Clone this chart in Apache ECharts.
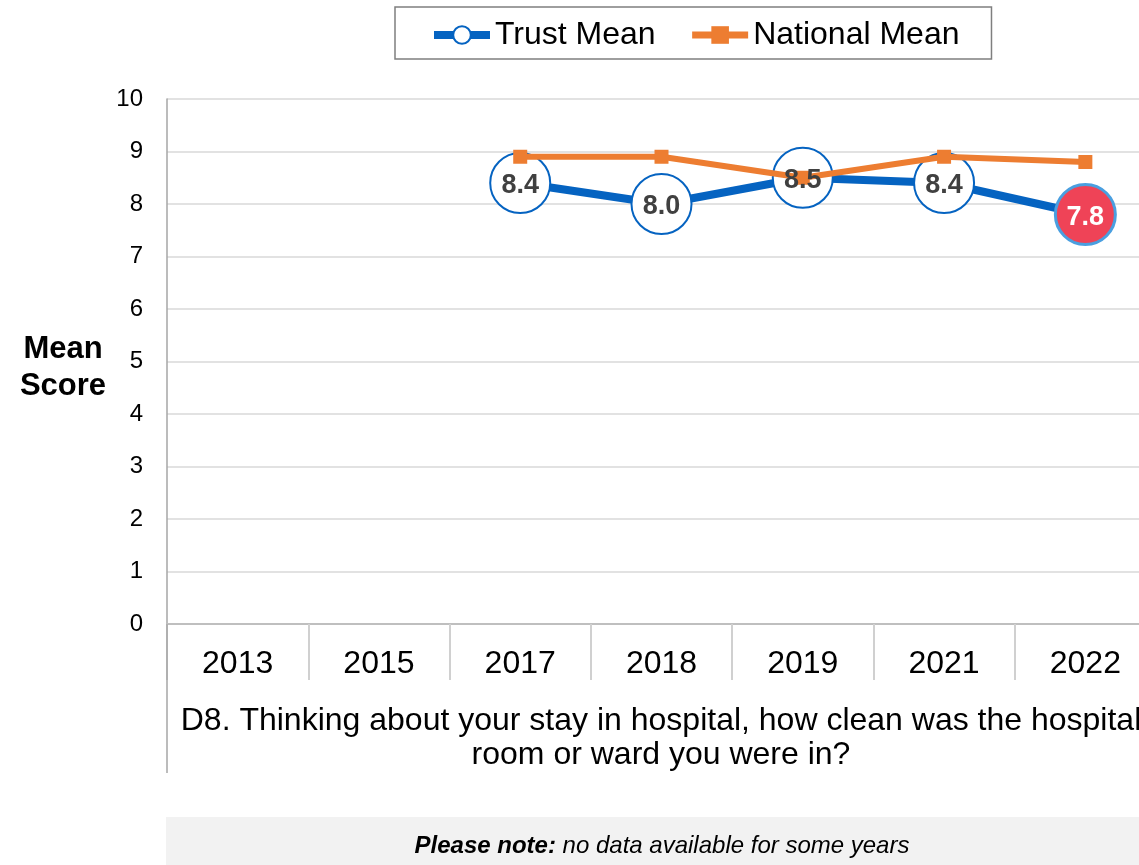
<!DOCTYPE html>
<html>
<head>
<meta charset="utf-8">
<script src="https://cdn.jsdelivr.net/npm/echarts@6/dist/echarts.min.js"></script>
<style>
html,body{margin:0;padding:0;background:#fff;overflow:hidden;width:1139px;height:865px;}
#chart{width:1156px;height:865px;}
</style>
</head>
<body>
<div id="chart"></div>
<script>
var years = ['2013', '2015', '2017', '2018', '2019', '2021', '2022'];
var trustMean = [null, null, 8.4, 8.0, 8.5, 8.4, 7.8];
var nationalMean = [null, null, 8.9, 8.9, 8.5, 8.9, 8.8];
var yTicks = [0, 1, 2, 3, 4, 5, 6, 7, 8, 9, 10];
var highlightIndex = 6; // 2022 shown in red
var questionText = 'D8. Thinking about your stay in hospital, how clean was the hospital\nroom or ward you were in?';
var yTitle = 'Mean\nScore';

var FONT = '"Liberation Sans", Arial, sans-serif';
var BLUE = '#0563C1';
var ORANGE = '#ED7D31';
var RED = '#EF4357';

var chart = echarts.init(document.getElementById('chart'), null, {renderer: 'canvas'});

var trustData = trustMean.map(function (v, i) {
  if (v === null) return null;
  if (i === highlightIndex) {
    return {value: v, itemStyle: {color: RED, borderColor: '#4A9FE0', borderWidth: 3}};
  }
  return v;
});
var labelData = trustMean.map(function (v, i) {
  if (v === null) return null;
  if (i === highlightIndex) {
    return {value: v, label: {color: '#ffffff'}};
  }
  return v;
});

var option = {
  animation: false,
  backgroundColor: '#ffffff',
  textStyle: {fontFamily: FONT},
  legend: {
    data: [
      {name: 'Trust Mean', lineStyle: {width: 8}},
      {name: 'National Mean', lineStyle: {width: 7}}
    ],
    left: 395,
    top: 7,
    padding: [12, 32, 8, 35],
    itemGap: 33,
    itemWidth: 56,
    itemHeight: 22,
    borderColor: '#7f7f7f',
    borderWidth: 1.5,
    backgroundColor: '#fff',
    textStyle: {fontSize: 32, color: '#000', fontFamily: FONT}
  },
  grid: {left: 167, top: 99, right: 0, bottom: 241, containLabel: false},
  xAxis: {
    type: 'category',
    data: years,
    boundaryGap: true,
    axisLine: {show: true, lineStyle: {color: '#bfbfbf', width: 2}},
    axisTick: {show: true, interval: 0, length: 56, lineStyle: {color: '#d0d0d0', width: 2}},
    axisLabel: {fontSize: 32, color: '#000', margin: 24, fontFamily: FONT, interval: 0}
  },
  yAxis: {
    type: 'value',
    min: 0,
    max: 10,
    interval: 1,
    axisLine: {show: true, lineStyle: {color: '#a6a6a6', width: 1.5}},
    axisTick: {show: false},
    splitLine: {show: true, lineStyle: {color: '#d9d9d9', width: 1.5}},
    axisLabel: {fontSize: 24, color: '#000', margin: 24, fontFamily: FONT,
      formatter: function (v) { return yTicks.indexOf(v) >= 0 ? String(v) : ''; }}
  },
  series: [
    {
      name: 'Trust Mean',
      type: 'line',
      z: 2,
      data: trustData,
      connectNulls: false,
      lineStyle: {color: BLUE, width: 8},
      itemStyle: {color: '#ffffff', borderColor: BLUE, borderWidth: 2},
      symbol: 'circle',
      symbolSize: 60,
      showAllSymbol: true,
      label: {show: false}
    },
    {
      name: 'National Mean',
      type: 'line',
      z: 3,
      data: nationalMean,
      lineStyle: {color: ORANGE, width: 6},
      itemStyle: {color: ORANGE},
      symbol: 'rect',
      symbolSize: 14,
      showAllSymbol: true
    },
    {
      name: 'labels',
      type: 'line',
      z: 4,
      data: labelData,
      lineStyle: {width: 0, opacity: 0},
      symbol: 'circle',
      symbolSize: 1,
      itemStyle: {color: 'rgba(0,0,0,0)'},
      silent: true,
      label: {
        show: true,
        position: 'inside',
        offset: [0, 3],
        fontSize: 27,
        fontWeight: 'bold',
        color: '#404040',
        fontFamily: FONT,
        formatter: function (p) { return Number(p.value).toFixed(1); }
      }
    }
  ],
  graphic: [
    {type: 'line', shape: {x1: 167, y1: 624, x2: 167, y2: 773}, style: {stroke: '#a6a6a6', lineWidth: 1.5}, z: 10},
    {type: 'text', x: 63, y: 368, style: {text: yTitle, font: 'bold 31px ' + FONT, fill: '#000', textAlign: 'center', textVerticalAlign: 'middle', lineHeight: 37}},
    {type: 'text', x: 661, y: 704, style: {text: questionText, font: '32px ' + FONT, fill: '#000', textAlign: 'center', textVerticalAlign: 'top', lineHeight: 34}},
    {type: 'rect', shape: {x: 166, y: 817, width: 1000, height: 60}, style: {fill: '#f2f2f2'}, z: 0},
    {type: 'text', x: 662, y: 846, z: 5, style: {
      text: '{b|Please note: }{i|no data available for some years}',
      textAlign: 'center', textVerticalAlign: 'middle',
      rich: {
        b: {font: 'italic bold 24px ' + FONT, fill: '#000'},
        i: {font: 'italic 24px ' + FONT, fill: '#000'}
      }
    }}
  ]
};
chart.setOption(option);
</script>
</body>
</html>
